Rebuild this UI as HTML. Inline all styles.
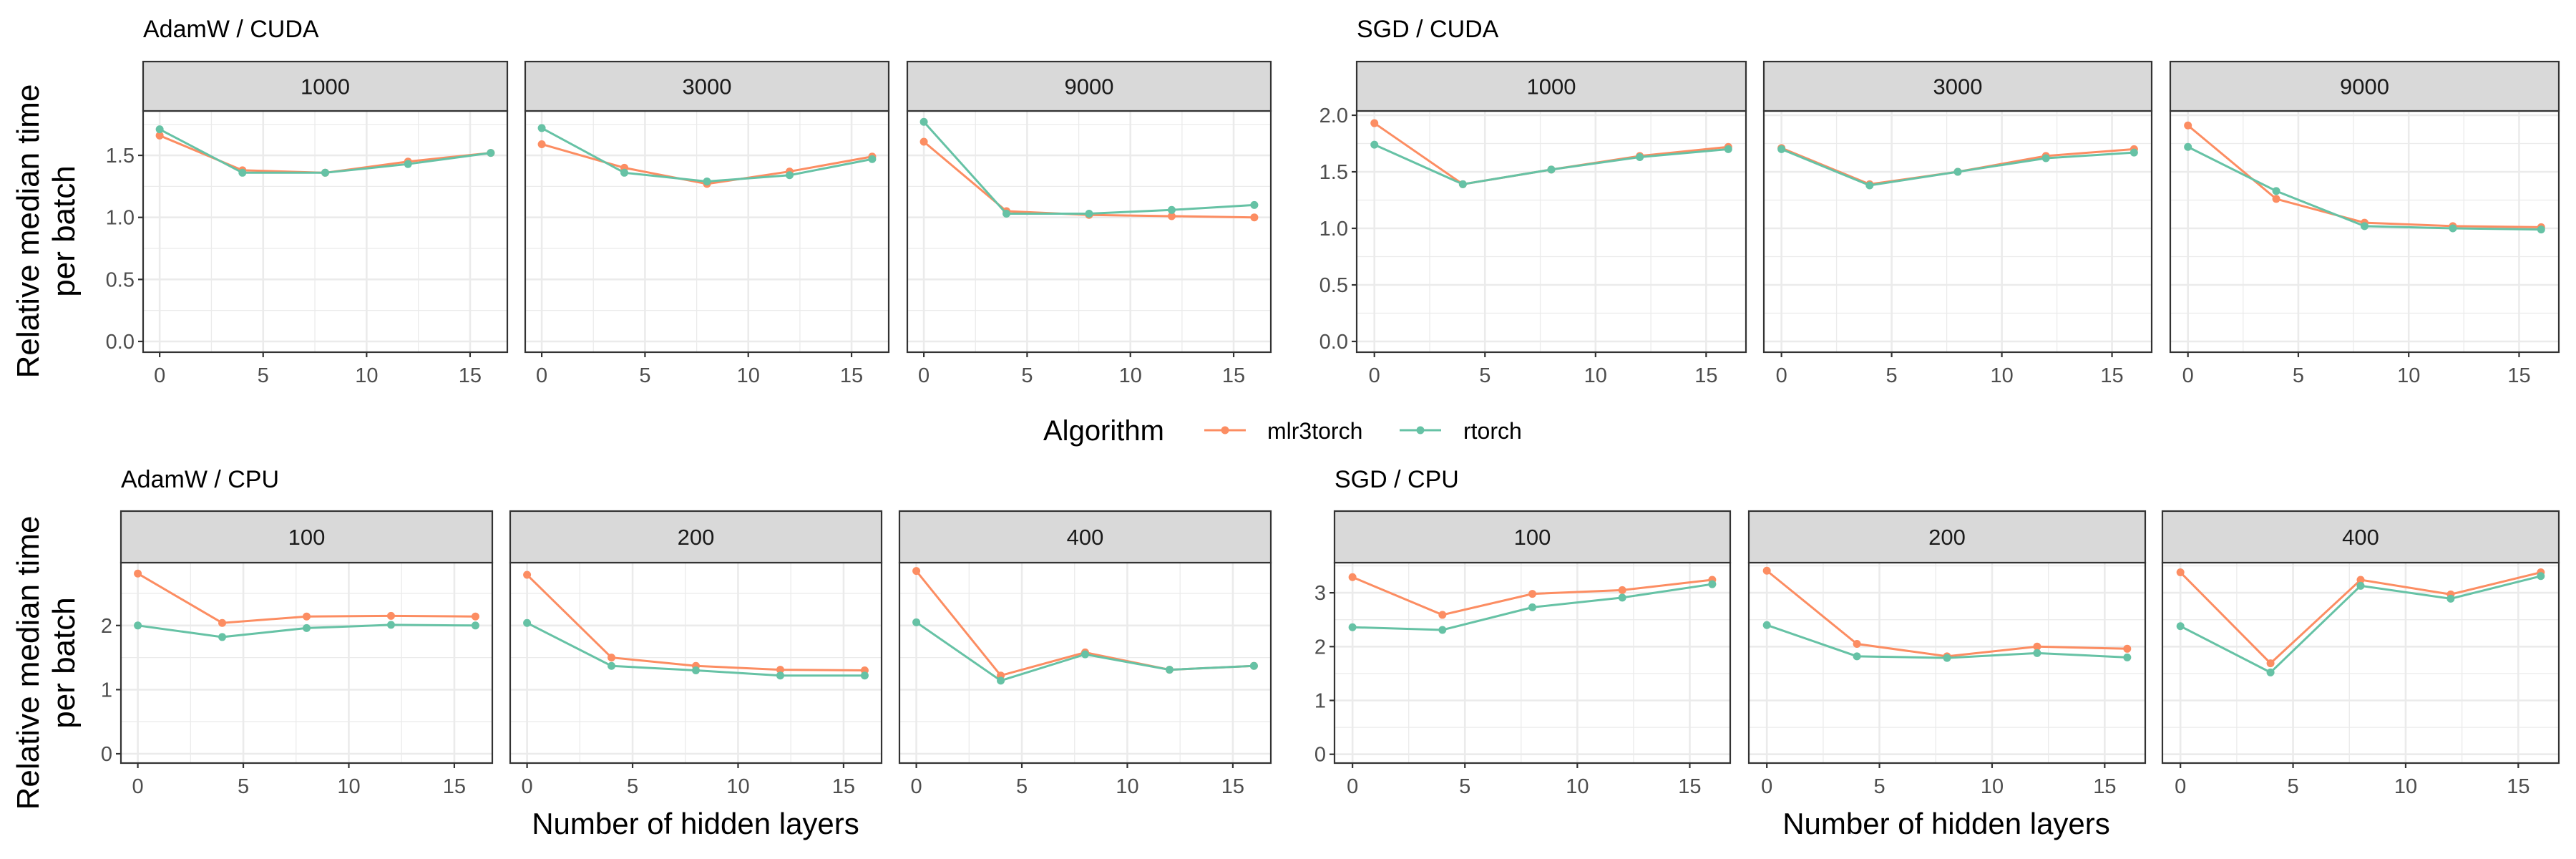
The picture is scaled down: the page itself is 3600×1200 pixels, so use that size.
<!DOCTYPE html>
<html><head><meta charset="utf-8">
<style>
html,body{margin:0;padding:0;background:#fff;}
svg{display:block;font-family:"Liberation Sans",sans-serif;}
</style></head>
<body>
<svg id="chart" width="3600" height="1200" viewBox="0 0 3600 1200" xmlns="http://www.w3.org/2000/svg">
<text x="200" y="52" font-size="34" fill="#000">AdamW / CUDA</text>
<text x="1896" y="52" font-size="34" fill="#000">SGD / CUDA</text>
<text x="169" y="681" font-size="34" fill="#000">AdamW / CPU</text>
<text x="1865" y="681" font-size="34" fill="#000">SGD / CPU</text>
<g font-size="44" text-anchor="middle">
<text transform="translate(54,323) rotate(-90)">Relative median time</text>
<text transform="translate(104,323) rotate(-90)">per batch</text>
</g>
<g font-size="44" text-anchor="middle">
<text transform="translate(54,926) rotate(-90)">Relative median time</text>
<text transform="translate(104,926) rotate(-90)">per batch</text>
</g>
<text x="972" y="1165" font-size="42" text-anchor="middle">Number of hidden layers</text>
<text x="2720" y="1165" font-size="42" text-anchor="middle">Number of hidden layers</text>
<g>
<text x="1458" y="615" font-size="40">Algorithm</text>
<g>
<line x1="1683" y1="601" x2="1741" y2="601" stroke="#fc8d62" stroke-width="3"/>
<circle cx="1712" cy="601" r="5.5" fill="#fc8d62"/>
<text x="1771" y="613" font-size="32">mlr3torch</text>
</g>
<g>
<line x1="1956" y1="601" x2="2014" y2="601" stroke="#66c2a5" stroke-width="3"/>
<circle cx="1985" cy="601" r="5.5" fill="#66c2a5"/>
<text x="2045" y="613" font-size="32">rtorch</text>
</g>
</g>
<g id="panels"></g>
</svg>
<script>
// x categories: number of hidden layers
const layers = [0, 4, 8, 12, 16];
const xTicks = [0, 5, 10, 15];
// AdamW / CUDA
const adamCuda1000Mlr = [1.66, 1.38, 1.36, 1.45, 1.52];
const adamCuda1000Rt  = [1.71, 1.36, 1.36, 1.43, 1.52];
const adamCuda3000Mlr = [1.59, 1.40, 1.27, 1.37, 1.49];
const adamCuda3000Rt  = [1.72, 1.36, 1.29, 1.34, 1.47];
const adamCuda9000Mlr = [1.61, 1.05, 1.02, 1.01, 1.00];
const adamCuda9000Rt  = [1.77, 1.03, 1.03, 1.06, 1.10];
// SGD / CUDA
const sgdCuda1000Mlr = [1.93, 1.39, 1.52, 1.64, 1.72];
const sgdCuda1000Rt  = [1.74, 1.39, 1.52, 1.63, 1.70];
const sgdCuda3000Mlr = [1.71, 1.39, 1.50, 1.64, 1.70];
const sgdCuda3000Rt  = [1.70, 1.38, 1.50, 1.62, 1.67];
const sgdCuda9000Mlr = [1.91, 1.26, 1.05, 1.02, 1.01];
const sgdCuda9000Rt  = [1.72, 1.33, 1.02, 1.00, 0.99];
// AdamW / CPU
const adamCpu100Mlr = [2.81, 2.04, 2.14, 2.15, 2.14];
const adamCpu100Rt  = [2.00, 1.82, 1.96, 2.01, 2.00];
const adamCpu200Mlr = [2.79, 1.50, 1.37, 1.31, 1.30];
const adamCpu200Rt  = [2.04, 1.37, 1.30, 1.22, 1.22];
const adamCpu400Mlr = [2.85, 1.22, 1.58, 1.31, 1.37];
const adamCpu400Rt  = [2.05, 1.14, 1.55, 1.31, 1.37];
// SGD / CPU
const sgdCpu100Mlr = [3.29, 2.59, 2.98, 3.05, 3.24];
const sgdCpu100Rt  = [2.36, 2.31, 2.73, 2.91, 3.16];
const sgdCpu200Mlr = [3.41, 2.05, 1.82, 2.00, 1.96];
const sgdCpu200Rt  = [2.40, 1.82, 1.79, 1.88, 1.80];
const sgdCpu400Mlr = [3.38, 1.69, 3.24, 2.97, 3.38];
const sgdCpu400Rt  = [2.38, 1.52, 3.13, 2.89, 3.31];
// tick labels
const yTicksTopLeft = [0, 0.5, 1.0, 1.5];
const yLabelsTopLeft = ["0.0", "0.5", "1.0", "1.5"];
const yTicksTopRight = [0, 0.5, 1.0, 1.5, 2.0];
const yLabelsTopRight = ["0.0", "0.5", "1.0", "1.5", "2.0"];
const yTicksBottom = [0, 1, 2, 3];
const yLabelsBottomLeft = ["0", "1", "2"];
const yLabelsBottomRight = ["0", "1", "2", "3"];
const stripLabelsCuda = ["1000", "3000", "9000"];
const stripLabelsCpu = ["100", "200", "400"];

const NS = "http://www.w3.org/2000/svg";
const root = document.getElementById("panels");
function mk(tag, attrs, parent) {
  const e = document.createElementNS(NS, tag);
  for (const k in attrs) e.setAttribute(k, attrs[k]);
  (parent || root).appendChild(e);
  return e;
}
const MLR = "#fc8d62", RT = "#66c2a5";

function row(cfg) {
  cfg.panels.forEach((p, i) => {
    const g = mk("g", {});
    
    
    const L = p[0], R = p[1], T = cfg.top, B = cfg.bottom;
    const xs = v => L + (v - (-0.8)) / 17.6 * (R - L);
    const ys = v => cfg.y0 - v * cfg.unit;
    mk("rect", {x: L, y: T, width: R - L, height: B - T, fill: "#fff"}, g);
    // minor grid
    cfg.minorY.forEach(v => { const y = ys(v); if (y > T && y < B) mk("line", {x1: L, x2: R, y1: y, y2: y, stroke: "#ebebeb", "stroke-width": 1.3}, g); });
    [2.5, 7.5, 12.5].forEach(v => mk("line", {x1: xs(v), x2: xs(v), y1: T, y2: B, stroke: "#ebebeb", "stroke-width": 1.3}, g));
    cfg.yTicks.forEach(v => { const y = ys(v); if (y > T && y < B) mk("line", {x1: L, x2: R, y1: y, y2: y, stroke: "#ebebeb", "stroke-width": 2.6}, g); });
    xTicks.forEach(v => mk("line", {x1: xs(v), x2: xs(v), y1: T, y2: B, stroke: "#ebebeb", "stroke-width": 2.6}, g));
    // series
    [[cfg.data[i][0], MLR, 'mlr3torch'], [cfg.data[i][1], RT, 'rtorch']].forEach(s => {
      const pts = s[0].map((v, j) => xs(layers[j]) + "," + ys(v)).join(" ");
      const pl = mk("polyline", {points: pts, fill: "none", stroke: s[1], "stroke-width": 3}, g);
      
      
      s[0].forEach((v, j) => {
        const c = mk("circle", {cx: xs(layers[j]), cy: ys(v), r: 5.5, fill: s[1]}, g);
        
        
      });
    });
    mk("rect", {x: L, y: T, width: R - L, height: B - T, fill: "none", stroke: "#333", "stroke-width": 2.2}, g);
    // strip
    mk("rect", {x: L, y: cfg.stripTop, width: R - L, height: T - cfg.stripTop, fill: "#d9d9d9", stroke: "#333", "stroke-width": 2.2}, g);
    const st = mk("text", {x: (L + R) / 2, y: (cfg.stripTop + T) / 2 + 11, "font-size": 31, "text-anchor": "middle", fill: "#1a1a1a"}, g);
    st.textContent = cfg.strips[i];
    
    
    // x ticks
    xTicks.forEach(v => {
      mk("line", {x1: xs(v), x2: xs(v), y1: B, y2: B + 7, stroke: "#333", "stroke-width": 2.2}, g);
      const t = mk("text", {x: xs(v), y: B + 42, "font-size": 29, "text-anchor": "middle", fill: "#4d4d4d"}, g);
      t.textContent = v;
      
      
    });
    if (i === 0) {
      cfg.yTicks.forEach((v, k) => {
        if (k >= cfg.yLabels.length) return;
        const y = ys(v);
        mk("line", {x1: L - 7, x2: L, y1: y, y2: y, stroke: "#333", "stroke-width": 2.2}, g);
        const t = mk("text", {x: L - 12, y: y + 10, "font-size": 29, "text-anchor": "end", fill: "#4d4d4d"}, g);
        t.textContent = cfg.yLabels[k];
        
        
      });
    }
  });
}

row({key: 'adamw-cuda', panels: [[200, 709], [734, 1242], [1268, 1776]], top: 155, bottom: 492, stripTop: 86,
  y0: 477, unit: 173.3, yTicks: yTicksTopLeft, yLabels: yLabelsTopLeft, minorY: [0.25, 0.75, 1.25, 1.75],
  strips: stripLabelsCuda,
  data: [[adamCuda1000Mlr, adamCuda1000Rt], [adamCuda3000Mlr, adamCuda3000Rt], [adamCuda9000Mlr, adamCuda9000Rt]]});
row({key: 'sgd-cuda', panels: [[1896, 2440], [2465, 3007], [3033, 3576]], top: 155, bottom: 492, stripTop: 86,
  y0: 477, unit: 158, yTicks: yTicksTopRight, yLabels: yLabelsTopRight, minorY: [0.25, 0.75, 1.25, 1.75],
  strips: stripLabelsCuda,
  data: [[sgdCuda1000Mlr, sgdCuda1000Rt], [sgdCuda3000Mlr, sgdCuda3000Rt], [sgdCuda9000Mlr, sgdCuda9000Rt]]});
row({key: 'adamw-cpu', panels: [[169, 688], [713, 1232], [1257, 1776]], top: 786, bottom: 1066, stripTop: 714,
  y0: 1053, unit: 89.6, yTicks: yTicksBottom, yLabels: yLabelsBottomLeft, minorY: [0.5, 1.5, 2.5],
  strips: stripLabelsCpu,
  data: [[adamCpu100Mlr, adamCpu100Rt], [adamCpu200Mlr, adamCpu200Rt], [adamCpu400Mlr, adamCpu400Rt]]});
row({key: 'sgd-cpu', panels: [[1865, 2418], [2444, 2998], [3022, 3576]], top: 786, bottom: 1066, stripTop: 714,
  y0: 1053.7, unit: 75.2, yTicks: yTicksBottom, yLabels: yLabelsBottomRight, minorY: [0.5, 1.5, 2.5, 3.5],
  strips: stripLabelsCpu,
  data: [[sgdCpu100Mlr, sgdCpu100Rt], [sgdCpu200Mlr, sgdCpu200Rt], [sgdCpu400Mlr, sgdCpu400Rt]]});
</script>
</body></html>
